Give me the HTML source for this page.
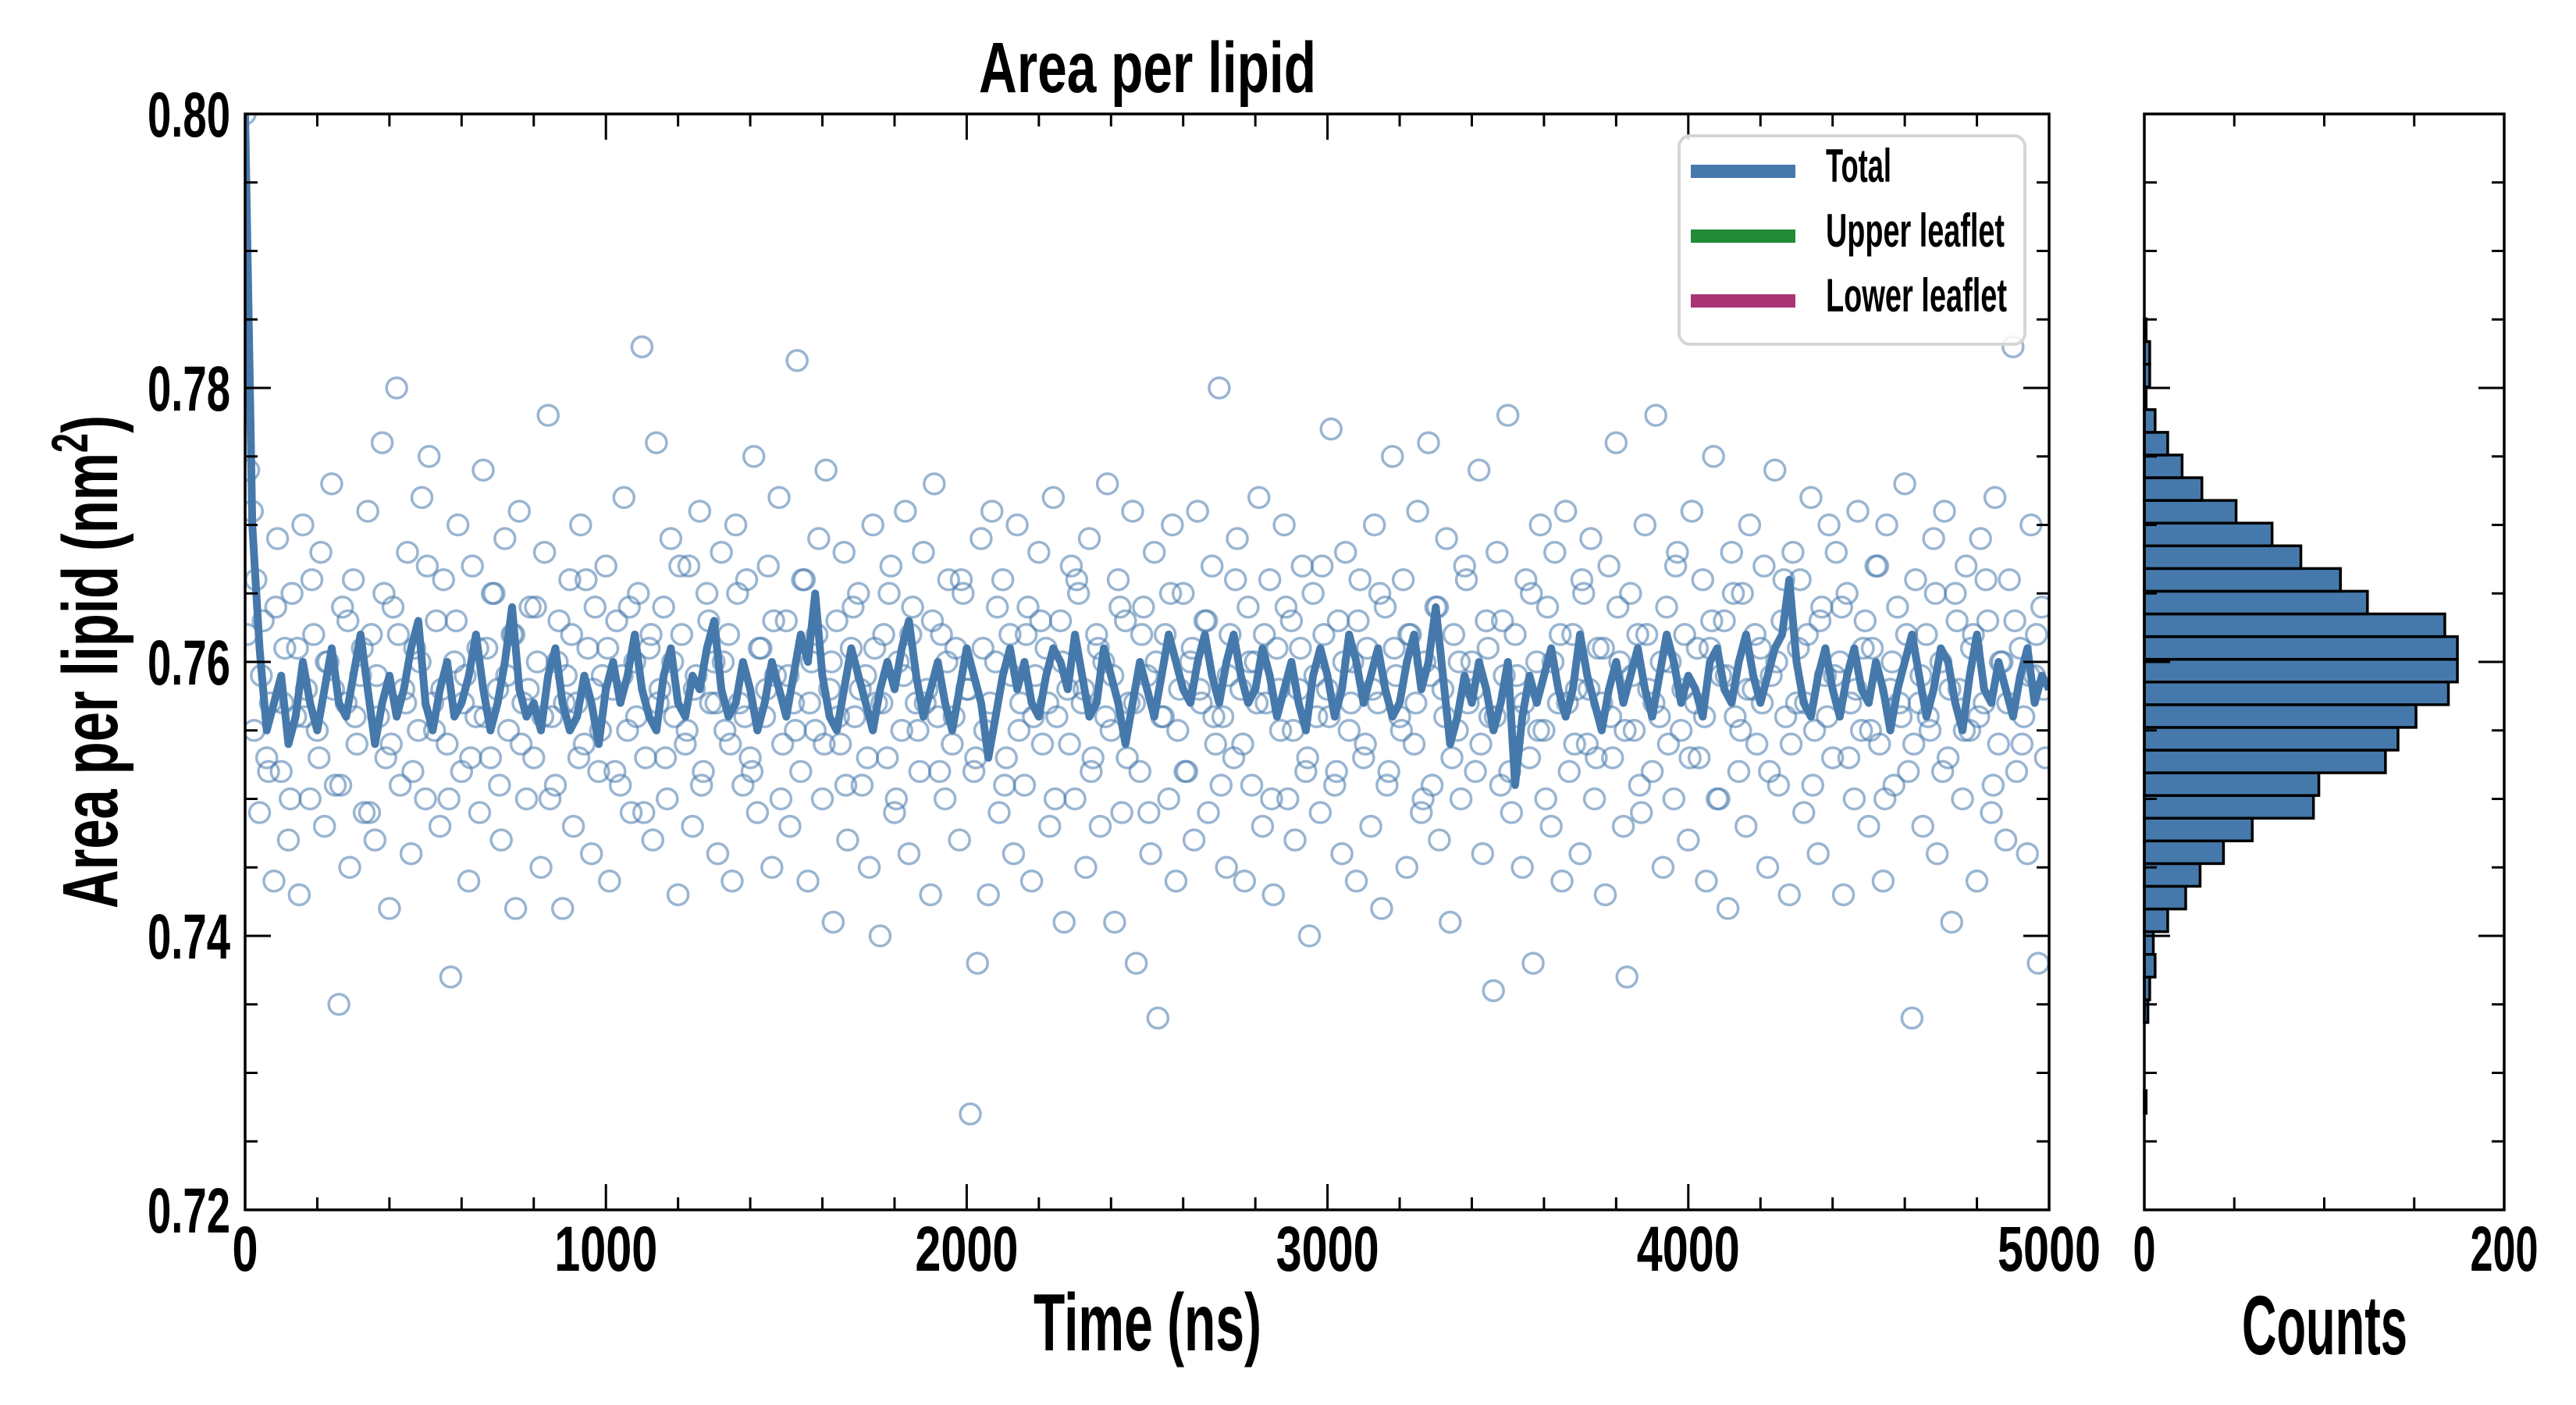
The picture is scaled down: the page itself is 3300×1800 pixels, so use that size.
<!DOCTYPE html>
<html><head><meta charset="utf-8"><style>
html,body{margin:0;padding:0;background:#fff;}
svg{display:block;}
text{font-family:"Liberation Sans Narrow","Liberation Sans",sans-serif;font-weight:bold;fill:#000;}
</style></head><body>
<svg id="chart" width="3300" height="1800" viewBox="0 0 3300 1800" xmlns="http://www.w3.org/2000/svg">
<defs><clipPath id="mainclip"><rect x="314" y="146" width="2311" height="1404"/></clipPath></defs>
<rect x="0" y="0" width="3300" height="1800" fill="#fff"/>
<g id="scatter" clip-path="url(#mainclip)"></g>
<g id="line" clip-path="url(#mainclip)"></g>
<g id="hist"></g>
<g id="axes"></g>
<text x="1470" y="118" font-size="92" text-anchor="middle" textLength="432" lengthAdjust="spacingAndGlyphs">Area per lipid</text>
<text x="1470" y="1730" font-size="104" text-anchor="middle" textLength="292" lengthAdjust="spacingAndGlyphs">Time (ns)</text>
<text x="2978" y="1735" font-size="108" text-anchor="middle" textLength="212" lengthAdjust="spacingAndGlyphs">Counts</text>
<text transform="translate(150,848) rotate(-90)" x="0" y="0" font-size="100" text-anchor="middle" textLength="632" lengthAdjust="spacingAndGlyphs">Area per lipid (nm<tspan font-size="66" dy="-38">2</tspan><tspan dy="38">)</tspan></text>
<g>
<rect x="2151" y="174" width="443" height="267" rx="14" fill="#fff" fill-opacity="0.85" stroke="#d5d5d5" stroke-width="4"/>
<g><rect x="2166" y="211" width="134" height="17" fill="#4679ab"/><text x="2339" y="233" font-size="60" textLength="84" lengthAdjust="spacingAndGlyphs">Total</text></g>
<g><rect x="2166" y="294" width="134" height="17" fill="#238b37"/><text x="2339" y="316" font-size="60" textLength="229" lengthAdjust="spacingAndGlyphs">Upper leaflet</text></g>
<g><rect x="2166" y="377" width="134" height="17" fill="#a83474"/><text x="2339" y="399" font-size="60" textLength="232" lengthAdjust="spacingAndGlyphs">Lower leaflet</text></g>
</g>
</svg>
<script>
const lineStep = 20;
const lineValues = [
.800,.770,.761,.755,.757,.759,.754,.756,.760,.757,
.755,.758,.761,.757,.756,.759,.762,.758,.754,.757,
.759,.756,.758,.761,.763,.757,.755,.758,.760,.756,
.757,.759,.762,.758,.755,.757,.760,.764,.758,.756,
.757,.755,.759,.761,.757,.755,.756,.759,.757,.754,
.758,.760,.757,.759,.762,.758,.756,.755,.759,.761,
.757,.756,.759,.758,.761,.763,.758,.756,.757,.760,
.758,.755,.757,.760,.758,.756,.759,.762,.760,.765,
.759,.756,.755,.758,.761,.759,.757,.755,.758,.760,
.758,.761,.763,.759,.756,.758,.760,.757,.755,.758,
.761,.759,.757,.753,.756,.759,.761,.758,.760,.757,
.756,.759,.761,.760,.758,.762,.759,.756,.757,.761,
.759,.757,.754,.757,.760,.758,.756,.759,.762,.760,
.758,.757,.760,.762,.759,.757,.760,.762,.759,.757,
.758,.761,.759,.756,.758,.760,.757,.755,.759,.761,
.759,.756,.758,.762,.760,.757,.759,.761,.758,.756,
.757,.760,.762,.758,.760,.764,.759,.754,.756,.759,
.757,.760,.758,.755,.757,.760,.751,.756,.759,.757,
.759,.761,.758,.756,.758,.762,.759,.757,.755,.758,
.760,.757,.759,.761,.758,.756,.759,.762,.760,.757,
.759,.758,.756,.760,.761,.758,.757,.760,.762,.759,
.757,.759,.761,.762,.766,.760,.757,.756,.759,.761,
.758,.756,.759,.761,.758,.757,.760,.758,.755,.758,
.760,.762,.759,.756,.758,.761,.760,.757,.755,.759,
.762,.758,.757,.760,.758,.756,.759,.761,.757,.759,
.758];
const scatterStep = 10;
const scatterValues = [
.800,.774,.771,.766,.749,.763,.753,.757,.744,.769,
.752,.761,.747,.765,.756,.743,.770,.758,.750,.762,
.755,.768,.748,.760,.773,.751,.735,.764,.757,.745,
.766,.754,.759,.749,.771,.762,.747,.756,.776,.753,
.742,.764,.780,.751,.758,.768,.746,.761,.755,.772,
.750,.775,.757,.763,.748,.766,.754,.737,.760,.770,
.752,.759,.744,.767,.756,.749,.774,.761,.753,.765,
.758,.747,.769,.755,.762,.742,.771,.757,.750,.764,
.753,.760,.745,.768,.778,.756,.751,.763,.742,.759,
.766,.748,.757,.770,.754,.761,.746,.764,.752,.759,
.767,.744,.758,.763,.751,.772,.755,.749,.760,.765,
.783,.753,.761,.747,.776,.758,.764,.750,.769,.756,
.743,.762,.754,.767,.748,.759,.771,.752,.765,.757,
.760,.746,.768,.755,.762,.744,.770,.757,.751,.766,
.753,.775,.749,.761,.756,.767,.745,.759,.772,.754,
.763,.748,.757,.782,.752,.766,.744,.760,.755,.769,
.750,.774,.758,.741,.763,.754,.768,.747,.761,.756,
.765,.751,.759,.745,.770,.757,.740,.762,.753,.767,
.749,.760,.755,.771,.746,.764,.757,.752,.768,.758,
.743,.773,.756,.762,.750,.766,.754,.761,.747,.765,
.758,.727,.752,.738,.769,.755,.743,.771,.760,.749,
.766,.753,.762,.746,.770,.757,.751,.764,.744,.759,
.768,.754,.761,.748,.772,.756,.763,.741,.758,.767,
.750,.765,.757,.745,.769,.753,.762,.748,.760,.773,
.755,.741,.766,.749,.763,.757,.771,.738,.752,.764,
.759,.746,.768,.734,.756,.762,.750,.770,.744,.758,
.765,.752,.760,.747,.771,.757,.763,.749,.767,.754,
.780,.756,.745,.762,.753,.769,.758,.744,.764,.751,
.760,.772,.748,.757,.766,.743,.761,.755,.770,.750,
.763,.747,.758,.767,.752,.740,.765,.756,.749,.762,
.758,.777,.751,.763,.746,.768,.755,.760,.744,.766,
.753,.761,.748,.770,.757,.742,.764,.752,.775,.759,
.756,.766,.745,.762,.754,.771,.749,.760,.776,.751,
.764,.747,.758,.769,.741,.762,.755,.750,.767,.757,
.760,.752,.774,.746,.763,.756,.736,.768,.751,.759,
.778,.749,.762,.756,.745,.766,.753,.738,.760,.770,
.755,.764,.748,.768,.757,.744,.771,.752,.762,.758,
.746,.765,.754,.769,.750,.761,.757,.743,.767,.753,
.776,.760,.748,.737,.765,.755,.762,.749,.770,.758,
.752,.778,.756,.745,.764,.760,.750,.768,.755,.762,
.747,.771,.757,.753,.766,.744,.761,.775,.750,.759,
.763,.742,.768,.756,.752,.765,.748,.770,.758,.754,
.761,.767,.745,.759,.774,.751,.763,.756,.743,.768,
.757,.766,.749,.762,.772,.755,.746,.764,.759,.770,
.753,.768,.760,.743,.765,.757,.750,.771,.755,.763,
.748,.761,.767,.754,.744,.770,.758,.751,.764,.756,
.773,.752,.734,.766,.757,.748,.762,.755,.769,.746,
.760,.771,.753,.741,.765,.758,.750,.767,.755,.762,
.744,.769,.757,.763,.749,.772,.754,.760,.747,.766,
.783,.752,.761,.756,.746,.770,.759,.738,.764,.753];
const scatter2Step = 20;
const scatter2Offset = 5;
const scatter2Values = [
.762,.755,.759,.752,.764,.757,.750,.761,.756,.766,
.753,.760,.758,.751,.763,.756,.761,.749,.759,.765,
.754,.762,.757,.752,.760,.767,.755,.758,.750,.763,
.757,.753,.761,.756,.765,.751,.759,.762,.754,.758,
.764,.756,.750,.760,.757,.762,.753,.766,.758,.755,
.761,.752,.759,.764,.756,.749,.762,.757,.753,.760,
.767,.755,.758,.751,.763,.757,.760,.754,.765,.756,
.752,.761,.758,.763,.750,.759,.755,.766,.757,.762,
.754,.760,.756,.751,.764,.758,.753,.761,.757,.765,
.750,.759,.762,.755,.757,.763,.752,.760,.756,.766,
.758,.753,.761,.757,.764,.751,.759,.755,.762,.756,
.763,.757,.750,.760,.754,.766,.758,.752,.761,.756,
.759,.764,.753,.757,.762,.749,.760,.756,.765,.755,
.752,.761,.758,.763,.756,.751,.759,.766,.754,.760,
.757,.762,.750,.758,.764,.755,.761,.753,.759,.767,
.756,.752,.760,.757,.763,.754,.758,.765,.751,.761,
.755,.762,.757,.750,.759,.764,.756,.753,.760,.766,
.758,.754,.761,.756,.763,.752,.759,.757,.765,.755,
.750,.760,.762,.757,.754,.766,.758,.753,.761,.756,
.764,.755,.759,.751,.762,.757,.760,.754,.767,.758,
.753,.761,.756,.763,.750,.759,.765,.755,.758,.762,
.757,.752,.760,.766,.754,.761,.757,.751,.763,.756,
.759,.764,.753,.758,.761,.755,.767,.750,.760,.757,
.762,.754,.759,.756,.765,.752,.758,.763,.755,.761,
.756,.766,.751,.760,.757,.763,.754,.759,.762,.758];
const histBinStart = 0.72705;
const histBinWidth = 0.001657;
const histCounts = [1,0,0,0,2,3,6,5,13,23,31,44,60,94,97,134,141,151,169,174,174,167,124,109,87,71,51,32,21,13,6,1,3,3,1];
const yTicks = [0.72,0.74,0.76,0.78,0.80];
const yTickLabels = ["0.72","0.74","0.76","0.78","0.80"];
const xTicks = [0,1000,2000,3000,4000,5000];
const xTickLabels = ["0","1000","2000","3000","4000","5000"];
const hTicks = [0,200];
const hTickLabels = ["0","200"];

const NS='http://www.w3.org/2000/svg';
const M={l:314,r:2625,t:146,b:1550}, H={l:2747,r:3208};
const Y0=0.72,Y1=0.80,X0=0,X1=5000,C1=200;
const sy=v=>M.b-(v-Y0)/(Y1-Y0)*(M.b-M.t);
const sx=v=>M.l+(v-X0)/(X1-X0)*(M.r-M.l);
const sc=v=>H.l+v/C1*(H.r-H.l);
function mk(tag,attrs,parent){const e=document.createElementNS(NS,tag);for(const k in attrs)e.setAttribute(k,attrs[k]);parent.appendChild(e);return e;}

const gS=document.getElementById('scatter');
function addPoint(t,v){
  const c=mk('circle',{cx:sx(t),cy:sy(v),r:13,fill:'none',stroke:'#4679ab','stroke-opacity':0.55,'stroke-width':3.5},gS);
  
  
}
scatterValues.forEach((v,i)=>addPoint(i*scatterStep,v));
scatter2Values.forEach((v,i)=>addPoint(scatter2Offset+i*scatter2Step,v));

const gL=document.getElementById('line');
const pts=lineValues.map((v,i)=>sx(i*lineStep).toFixed(1)+','+sy(v).toFixed(1)).join(' ');
const pl=mk('polyline',{points:pts,fill:'none',stroke:'#4679ab','stroke-width':10,'stroke-linejoin':'round'},gL);



const gH=document.getElementById('hist');
histCounts.forEach((c,i)=>{
  if(c<=0)return;
  const lo=histBinStart+i*histBinWidth, hi=lo+histBinWidth;
  const r=mk('rect',{x:sc(0),y:sy(hi),width:sc(c)-sc(0),height:sy(lo)-sy(hi),fill:'#4679ab',stroke:'#000','stroke-width':3.5},gH);
  
  
});

const gA=document.getElementById('axes');
function tick(x1,y1,x2,y2){mk('line',{x1,y1,x2,y2,stroke:'#000','stroke-width':3},gA);}
for(let k=0;k<=16;k++){
  const v=Y0+k*0.005, L=(k%4===0)?33:16, y=sy(v);
  tick(M.l,y,M.l+L,y);tick(M.r,y,M.r-L,y);
  tick(H.l,y,H.l+L,y);tick(H.r,y,H.r-L,y);
}
for(let v=X0;v<=X1;v+=200){
  const L=(v%1000===0)?33:16,x=sx(v);
  tick(x,M.b,x,M.b-L);tick(x,M.t,x,M.t+L);
}
for(let v=0;v<=C1;v+=50){
  const L=(v%200===0)?33:16,x=sc(v);
  tick(x,M.b,x,M.b-L);tick(x,M.t,x,M.t+L);
}
const f1=mk('rect',{x:M.l,y:M.t,width:M.r-M.l,height:M.b-M.t,fill:'none',stroke:'#000','stroke-width':3.5},gA);


const f2=mk('rect',{x:H.l,y:M.t,width:H.r-H.l,height:M.b-M.t,fill:'none',stroke:'#000','stroke-width':3.5},gA);



yTicks.forEach((v,i)=>{
  const t=mk('text',{x:295,y:sy(v)+29,'font-size':82,'text-anchor':'end',textLength:106,lengthAdjust:'spacingAndGlyphs'},gA);
  t.textContent=yTickLabels[i];
  
  
});
xTicks.forEach((v,i)=>{
  const lbl=xTickLabels[i];
  const t=mk('text',{x:sx(v),y:1628,'font-size':82,'text-anchor':'middle',textLength:lbl.length*33,lengthAdjust:'spacingAndGlyphs'},gA);
  t.textContent=lbl;
  
  
});
hTicks.forEach((v,i)=>{
  const lbl=hTickLabels[i];
  const t=mk('text',{x:sc(v),y:1628,'font-size':82,'text-anchor':'middle',textLength:lbl.length*29,lengthAdjust:'spacingAndGlyphs'},gA);
  t.textContent=lbl;
  
  
});
</script>
</body></html>
